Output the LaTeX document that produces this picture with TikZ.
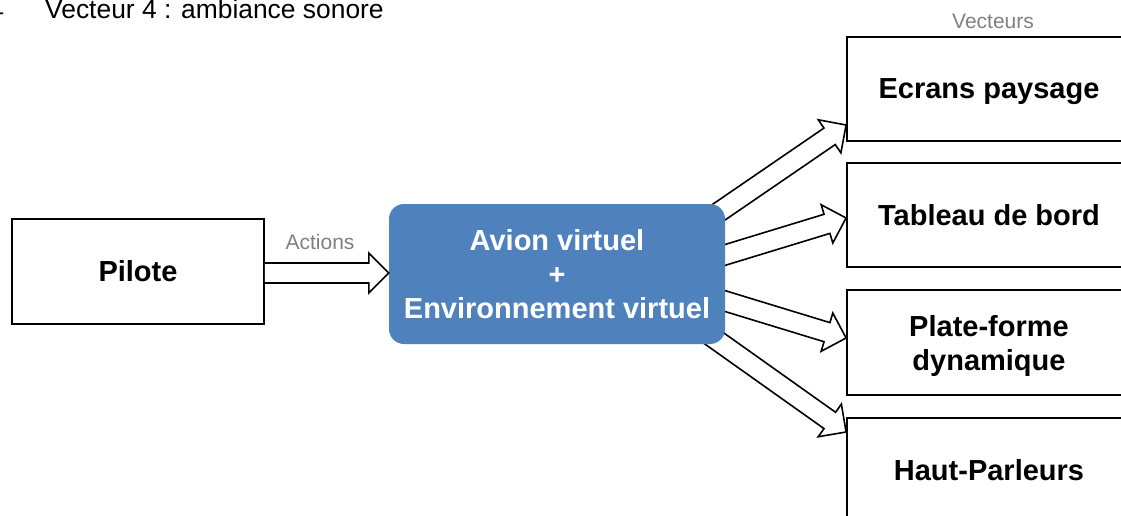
\documentclass[tikz,border=0pt]{standalone}
\usepackage{fontspec}
\setmainfont{Liberation Sans}
\usetikzlibrary{calc}
\definecolor{avionblue}{RGB}{79,129,189}
\definecolor{labelgray}{RGB}{128,128,128}
\pgfdeclarelayer{back}
\pgfsetlayers{back,main}
\tikzset{
	vecbox/.style={draw, line width=1.8pt, minimum width=284pt, minimum height=104.5pt, inner sep=0pt, align=center, font=\fontsize{29}{34}\selectfont\bfseries},
	pilotebox/.style={draw, line width=1.8pt, minimum width=252pt, minimum height=105pt, inner sep=0pt, font=\fontsize{29}{34}\selectfont\bfseries},
	avionbox/.style={fill=avionblue, rounded corners=15pt, minimum width=336pt, minimum height=140pt, inner sep=0pt, align=center, text=white, font=\fontsize{29}{34}\selectfont\bfseries},
	graylabel/.style={inner sep=0pt, text=labelgray, font=\fontsize{21}{25}\selectfont},
	toptext/.style={inner sep=0pt, font=\fontsize{26.4}{30}\selectfont},
	blockline/.style={line width=1.6pt, fill=white}
}
\def\blockarrow(#1)(#2){%
	\coordinate (headbase) at ($(#2)!20pt!(#1)$);
	\draw[blockline] ($(#1)!10pt!90:(#2)$) -- ($(headbase)!10pt!90:(#2)$) -- ($(headbase)!20pt!90:(#2)$) -- (#2) -- ($(headbase)!20pt!-90:(#2)$) -- ($(headbase)!10pt!-90:(#2)$) -- ($(#1)!10pt!-90:(#2)$);}

\begin{document}
\begin{tikzpicture}[x=1pt, y=-1pt]
			%%%%% START %%%%%
			\useasboundingbox (0, 0) rectangle (1121, 515);
			
			\node[toptext, anchor=base east] (tiret) at (3.5, 20.5) {–};
			\node[toptext, anchor=base west] (vecteur4) at (45, 18.5) {Vecteur 4 : ambiance sonore};
			
			\node[pilotebox] (pilote) at (138, 271.5) {Pilote};
			\node[avionbox] (avion) at (557, 274) {Avion virtuel\\+\\Environnement virtuel};
			
			\node[vecbox, text depth=0pt] (ecrans) at (989, 89) {Ecrans paysage};
			\node[vecbox] (tableau) at (989, 215) {Tableau de bord};
			\node[vecbox] (plateforme) at (989, 342.5) {Plate-forme\\\smash{dynamique}};
			\node[vecbox] (haut) at (989, 470.5) {Haut-Parleurs};
			
			\node[graylabel] (actions) at (320, 241.5) {Actions};
			\node[graylabel] (vecteurs) at (993, 21) {Vecteurs};
			
			\coordinate (actstart) at ($(pilote.east)+(0, 1.5)$);
			\coordinate (acttip) at (avion.west |- actstart);
			\blockarrow(actstart)(acttip);
			
			\coordinate (depart1) at ($(avion.east)+(-20, -52.5)$);
			\coordinate (depart2) at ($(avion.east)+(-20, -13)$);
			\coordinate (depart3) at ($(avion.east)+(-20, 21)$);
			\coordinate (depart4) at ($(avion.east)+(-20, 58)$);
			\coordinate (pointe1) at ($(ecrans.west)+(0, 36)$);
			\coordinate (pointe2) at ($(tableau.west)+(0, 3)$);
			\coordinate (pointe3) at ($(plateforme.west)+(0, -4.5)$);
			\coordinate (pointe4) at ($(haut.west)+(0, -38.5)$);
			
			\begin{pgfonlayer}{back}
				\blockarrow(depart1)(pointe1);
				\blockarrow(depart2)(pointe2);
				\blockarrow(depart3)(pointe3);
				\blockarrow(depart4)(pointe4);
			\end{pgfonlayer}
			
			%%%%% END %%%%%
\end{tikzpicture}
\end{document}
